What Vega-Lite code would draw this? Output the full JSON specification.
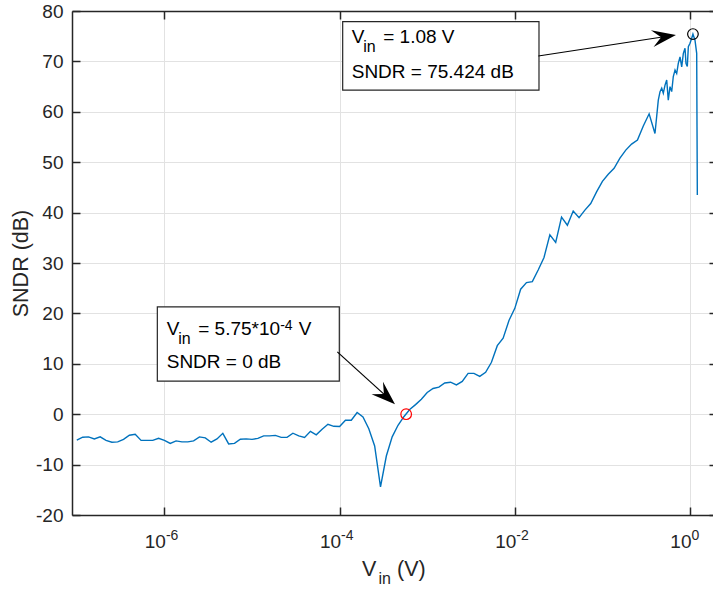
{
  "$schema": "https://vega.github.io/schema/vega-lite/v6.json",
  "width": 641,
  "height": 504,
  "autosize": {"type": "none"},
  "padding": {"left": 72, "top": 11, "right": 0, "bottom": 74},
  "background": "white",
  "config": {"view": {"stroke": null}, "font": "Liberation Sans"},
  "datasets": {
    "curve": [
      {"v": 1e-7, "s": -5.16}, {"v": 1.166e-7, "s": -4.57}, {"v": 1.359e-7, "s": -4.5}, {"v": 1.585e-7, "s": -4.9},
      {"v": 1.848e-7, "s": -4.5}, {"v": 2.154e-7, "s": -5.2}, {"v": 2.512e-7, "s": -5.56}, {"v": 2.929e-7, "s": -5.5},
      {"v": 3.415e-7, "s": -5.0}, {"v": 3.981e-7, "s": -4.17}, {"v": 4.642e-7, "s": -3.97}, {"v": 5.412e-7, "s": -5.2},
      {"v": 6.31e-7, "s": -5.2}, {"v": 7.356e-7, "s": -5.2}, {"v": 8.577e-7, "s": -4.77},
      {"v": 1e-6, "s": -5.2}, {"v": 1.166e-6, "s": -5.8}, {"v": 1.359e-6, "s": -5.3}, {"v": 1.585e-6, "s": -5.5},
      {"v": 1.848e-6, "s": -5.5}, {"v": 2.154e-6, "s": -5.3}, {"v": 2.512e-6, "s": -4.5}, {"v": 2.929e-6, "s": -4.7},
      {"v": 3.415e-6, "s": -5.56}, {"v": 3.981e-6, "s": -4.9}, {"v": 4.642e-6, "s": -3.8}, {"v": 5.412e-6, "s": -5.9},
      {"v": 6.31e-6, "s": -5.8}, {"v": 7.356e-6, "s": -4.96}, {"v": 8.577e-6, "s": -4.9},
      {"v": 1e-5, "s": -5.0}, {"v": 1.166e-5, "s": -4.8}, {"v": 1.359e-5, "s": -4.3}, {"v": 1.585e-5, "s": -4.3},
      {"v": 1.848e-5, "s": -4.2}, {"v": 2.154e-5, "s": -4.6}, {"v": 2.512e-5, "s": -4.6}, {"v": 2.929e-5, "s": -3.77},
      {"v": 3.415e-5, "s": -4.3}, {"v": 3.981e-5, "s": -4.6}, {"v": 4.642e-5, "s": -3.4}, {"v": 5.412e-5, "s": -4.1},
      {"v": 6.31e-5, "s": -3.0}, {"v": 7.356e-5, "s": -2.0}, {"v": 8.577e-5, "s": -2.4},
      {"v": 1e-4, "s": -2.45}, {"v": 1.166e-4, "s": -1.2}, {"v": 1.359e-4, "s": -1.2}, {"v": 1.585e-4, "s": 0.33},
      {"v": 1.848e-4, "s": -0.53}, {"v": 2.154e-4, "s": -2.9}, {"v": 2.512e-4, "s": -6.3}, {"v": 2.929e-4, "s": -14.4},
      {"v": 3.415e-4, "s": -8.3}, {"v": 3.981e-4, "s": -4.5}, {"v": 4.642e-4, "s": -2.2}, {"v": 5.412e-4, "s": -0.5},
      {"v": 6.31e-4, "s": 0.93}, {"v": 7.356e-4, "s": 1.9}, {"v": 8.577e-4, "s": 2.98},
      {"v": 1e-3, "s": 4.3}, {"v": 1.166e-3, "s": 5.1}, {"v": 1.359e-3, "s": 5.36}, {"v": 1.585e-3, "s": 6.2},
      {"v": 1.848e-3, "s": 6.35}, {"v": 2.154e-3, "s": 5.8}, {"v": 2.512e-3, "s": 6.5}, {"v": 2.929e-3, "s": 8.1},
      {"v": 3.415e-3, "s": 8.1}, {"v": 3.981e-3, "s": 7.5}, {"v": 4.642e-3, "s": 8.3}, {"v": 5.412e-3, "s": 10.3},
      {"v": 6.31e-3, "s": 13.6}, {"v": 7.356e-3, "s": 15.1}, {"v": 8.577e-3, "s": 18.6},
      {"v": 1e-2, "s": 21.0}, {"v": 1.166e-2, "s": 24.8}, {"v": 1.359e-2, "s": 26.1}, {"v": 1.585e-2, "s": 26.3},
      {"v": 1.848e-2, "s": 28.6}, {"v": 2.154e-2, "s": 31.1}, {"v": 2.512e-2, "s": 35.6}, {"v": 2.929e-2, "s": 34.1},
      {"v": 3.415e-2, "s": 39.1}, {"v": 3.981e-2, "s": 37.5}, {"v": 4.642e-2, "s": 40.3}, {"v": 5.412e-2, "s": 39.0},
      {"v": 6.31e-2, "s": 40.5}, {"v": 7.356e-2, "s": 41.8}, {"v": 8.577e-2, "s": 44.1},
      {"v": 0.1, "s": 46.2}, {"v": 0.1166, "s": 47.6}, {"v": 0.1359, "s": 48.8}, {"v": 0.1585, "s": 50.8},
      {"v": 0.1848, "s": 52.4}, {"v": 0.2154, "s": 53.6}, {"v": 0.2512, "s": 54.4}, {"v": 0.2929, "s": 57.2},
      {"v": 0.3415, "s": 59.6}, {"v": 0.3981, "s": 55.7},
      {"v": 0.4345, "s": 62.3}, {"v": 0.4548, "s": 64.0}, {"v": 0.4753, "s": 64.7}, {"v": 0.4955, "s": 63.7},
      {"v": 0.5185, "s": 65.3}, {"v": 0.542, "s": 66.3}, {"v": 0.5649, "s": 62.3}, {"v": 0.5912, "s": 65.0},
      {"v": 0.618, "s": 64.0}, {"v": 0.6445, "s": 67.0}, {"v": 0.6745, "s": 68.3}, {"v": 0.7047, "s": 67.6},
      {"v": 0.7349, "s": 69.6}, {"v": 0.7691, "s": 70.9}, {"v": 0.8036, "s": 68.9}, {"v": 0.8393, "s": 71.6},
      {"v": 0.877, "s": 72.6}, {"v": 0.8995, "s": 69.6}, {"v": 0.9312, "s": 69.0}, {"v": 0.9572, "s": 72.9},
      {"v": 1.0, "s": 73.6}, {"v": 1.0447, "s": 74.6}, {"v": 1.08, "s": 75.424}, {"v": 1.14, "s": 74.2},
      {"v": 1.192, "s": 71.6}, {"v": 1.202, "s": 57.0}, {"v": 1.212, "s": 43.5}
    ],
    "boxes": [
      {"x": 1.084e-4, "x2": 0.01888, "y": 77.9, "y2": 64.3},
      {"x": 8.3e-7, "x2": 9.92e-5, "y": 21.3, "y2": 6.55}
    ],
    "textMain": [
      {"x": 1.374e-4, "y": 73.6, "t": "V"},
      {"x": 1.374e-4, "y": 66.65, "t": "SNDR = 75.424 dB"},
      {"x": 1.062e-6, "y": 15.68, "t": "V"},
      {"x": 1.062e-6, "y": 9.07, "t": "SNDR = 0 dB"}
    ],
    "textSub": [
      {"x": 1.374e-4, "y": 73.6, "t": "in"},
      {"x": 1.062e-6, "y": 15.68, "t": "in"}
    ],
    "textRest": [
      {"x": 1.374e-4, "y": 73.6, "t": "= 1.08 V"},
      {"x": 1.062e-6, "y": 15.68, "t": "= 5.75*10"}
    ],
    "textSup": [
      {"x": 1.062e-6, "y": 15.68, "t": "-4"}
    ],
    "textUnit": [
      {"x": 1.062e-6, "y": 15.68, "t": "V"}
    ],
    "arrows": [
      {"x": 0.01855, "y": 71.07, "x2": 0.506, "y2": 74.89},
      {"x": 9.412e-5, "y": 12.37, "x2": 3.396e-4, "y2": 3.59}
    ]
  },
  "layer": [
    {
      "data": {"name": "curve"},
      "mark": {"type": "line", "color": "#0072BD", "strokeWidth": 1.4, "clip": true},
      "encoding": {
        "x": {
          "field": "v", "type": "quantitative",
          "scale": {"type": "log", "domain": [8.81e-8, 1.83], "nice": false},
          "axis": {
            "orient": "bottom", "values": [1e-6, 1e-4, 1e-2, 1],
            "labelExpr": "'10'",
            "grid": true, "gridColor": "#e2e2e2", "gridWidth": 1,
            "tickSize": -8, "tickColor": "#262626", "tickWidth": 1.5,
            "domainColor": "#262626", "domainWidth": 1.5,
            "labelFontSize": 19, "labelColor": "#262626", "labelPadding": 40, "labelBaseline": "alphabetic",
            "labelAlign": "right", "labelOffset": 1,
            "labelFlush": false, "labelOverlap": false,
            "title": "V", "titleFontSize": 21.5, "titleFontWeight": "normal", "titleColor": "#262626",
            "titleBaseline": "alphabetic", "titleAlign": "left", "titleX": 289.5, "titleY": 60
          }
        },
        "y": {
          "field": "s", "type": "quantitative",
          "scale": {"domain": [-20, 80], "nice": false, "zero": false},
          "axis": {
            "orient": "left", "values": [-20, -10, 0, 10, 20, 30, 40, 50, 60, 70, 80],
            "labelExpr": "replace(datum.label, '−', '-')",
            "grid": true, "gridColor": "#e2e2e2", "gridWidth": 1,
            "tickSize": -8, "tickColor": "#262626", "tickWidth": 1.5,
            "domainColor": "#262626", "domainWidth": 1.5,
            "labelFontSize": 19, "labelColor": "#262626", "labelPadding": 17,
            "title": "SNDR (dB)", "titleFontSize": 21.5, "titleFontWeight": "normal", "titleColor": "#262626",
            "titleAngle": 270, "titleBaseline": "alphabetic", "titleX": -45, "titleY": 252, "titleAlign": "center"
          }
        }
      }
    },
    {
      "data": {"name": "boxes"},
      "mark": {"type": "rect", "fill": "white", "stroke": "#262626", "strokeWidth": 1.2},
      "encoding": {
        "x": {
          "field": "x", "type": "quantitative",
          "scale": {"type": "log", "domain": [8.81e-8, 1.83], "nice": false},
          "axis": {
            "orient": "top", "values": [1e-6, 1e-4, 1e-2, 1], "labels": false, "grid": false,
            "tickSize": -8, "tickColor": "#262626", "tickWidth": 1.5,
            "domainColor": "#262626", "domainWidth": 1.5,
            "title": "(V)", "titleFontSize": 21.5, "titleFontWeight": "normal", "titleColor": "#262626",
            "titleBaseline": "alphabetic", "titleAlign": "left", "titleX": 324.5, "titleY": 564
          }
        },
        "x2": {"field": "x2"},
        "y": {
          "field": "y", "type": "quantitative",
          "scale": {"domain": [-20, 80], "nice": false, "zero": false},
          "axis": {
            "orient": "right", "values": [-20, -10, 0, 10, 20, 30, 40, 50, 60, 70, 80], "labels": false, "grid": false,
            "domain": false, "tickSize": -4, "tickColor": "#262626", "tickWidth": 1.5, "title": null
          }
        },
        "y2": {"field": "y2"}
      }
    },
    {
      "data": {"name": "textMain"},
      "mark": {"type": "text", "align": "left", "baseline": "alphabetic", "fontSize": 19, "color": "#000000", "font": "Liberation Sans"},
      "encoding": {
        "x": {
          "field": "x", "type": "quantitative",
          "scale": {"type": "log", "domain": [8.81e-8, 1.83], "nice": false},
          "axis": {
            "orient": "bottom", "values": [1e-6, 1e-4, 1e-2, 1],
            "labelExpr": "datum.value < 1e-5 ? '-6' : datum.value < 1e-3 ? '-4' : datum.value < 0.1 ? '-2' : '0'",
            "domain": false, "ticks": false, "grid": false,
            "labelFontSize": 14, "labelColor": "#262626", "labelPadding": 24.5, "labelBaseline": "alphabetic",
            "labelAlign": "left", "labelOffset": 1, "labelFlush": false, "labelOverlap": false,
            "title": "in", "titleFontSize": 16, "titleFontWeight": "normal", "titleColor": "#262626",
            "titleBaseline": "alphabetic", "titleAlign": "left", "titleX": 306, "titleY": 68
          }
        },
        "y": {"field": "y", "type": "quantitative", "axis": null},
        "text": {"field": "t"}
      }
    },
    {
      "data": {"name": "textSub"},
      "mark": {"type": "text", "align": "left", "baseline": "alphabetic", "fontSize": 16, "dx": 11.5, "dy": 9, "color": "#000000", "font": "Liberation Sans"},
      "encoding": {
        "x": {"field": "x", "type": "quantitative", "axis": null},
        "y": {"field": "y", "type": "quantitative", "axis": null},
        "text": {"field": "t"}
      }
    },
    {
      "data": {"name": "textRest"},
      "mark": {"type": "text", "align": "left", "baseline": "alphabetic", "fontSize": 19, "dx": 31.5, "color": "#000000", "font": "Liberation Sans"},
      "encoding": {
        "x": {"field": "x", "type": "quantitative", "axis": null},
        "y": {"field": "y", "type": "quantitative", "axis": null},
        "text": {"field": "t"}
      }
    },
    {
      "data": {"name": "textSup"},
      "mark": {"type": "text", "align": "left", "baseline": "alphabetic", "fontSize": 14, "dx": 113.5, "dy": -5.5, "color": "#000000", "font": "Liberation Sans"},
      "encoding": {
        "x": {"field": "x", "type": "quantitative", "axis": null},
        "y": {"field": "y", "type": "quantitative", "axis": null},
        "text": {"field": "t"}
      }
    },
    {
      "data": {"name": "textUnit"},
      "mark": {"type": "text", "align": "left", "baseline": "alphabetic", "fontSize": 19, "dx": 132, "color": "#000000", "font": "Liberation Sans"},
      "encoding": {
        "x": {"field": "x", "type": "quantitative", "axis": null},
        "y": {"field": "y", "type": "quantitative", "axis": null},
        "text": {"field": "t"}
      }
    },
    {
      "data": {"name": "arrows"},
      "mark": {"type": "rule", "color": "#000000", "strokeWidth": 1.2},
      "encoding": {
        "x": {"field": "x", "type": "quantitative", "axis": null},
        "y": {"field": "y", "type": "quantitative", "axis": null},
        "x2": {"field": "x2"},
        "y2": {"field": "y2"}
      }
    },
    {
      "data": {"values": [{"x": 0.506, "y": 74.89}]},
      "mark": {"type": "point", "shape": "M1,0L-1,-0.71L-0.25,0L-1,0.71Z", "size": 576, "angle": -8.67, "filled": true, "color": "#000000", "opacity": 1, "strokeWidth": 0},
      "encoding": {
        "x": {"field": "x", "type": "quantitative", "axis": null},
        "y": {"field": "y", "type": "quantitative", "axis": null}
      }
    },
    {
      "data": {"values": [{"x": 3.396e-4, "y": 3.59}]},
      "mark": {"type": "point", "shape": "M1,0L-1,-0.71L-0.25,0L-1,0.71Z", "size": 576, "angle": 42.2, "filled": true, "color": "#000000", "opacity": 1, "strokeWidth": 0},
      "encoding": {
        "x": {"field": "x", "type": "quantitative", "axis": null},
        "y": {"field": "y", "type": "quantitative", "axis": null}
      }
    },
    {
      "data": {"values": [{"x": 5.75e-4, "y": 0}]},
      "mark": {"type": "point", "shape": "circle", "size": 113, "filled": false, "stroke": "#ff0000", "strokeWidth": 1.2, "opacity": 1},
      "encoding": {
        "x": {"field": "x", "type": "quantitative", "axis": null},
        "y": {"field": "y", "type": "quantitative", "axis": null}
      }
    },
    {
      "data": {"values": [{"x": 1.08, "y": 75.424}]},
      "mark": {"type": "point", "shape": "circle", "size": 113, "filled": false, "stroke": "#000000", "strokeWidth": 1.2, "opacity": 1},
      "encoding": {
        "x": {"field": "x", "type": "quantitative", "axis": null},
        "y": {"field": "y", "type": "quantitative", "axis": null}
      }
    }
  ],
  "resolve": {"axis": {"x": "independent", "y": "independent"}}
}
